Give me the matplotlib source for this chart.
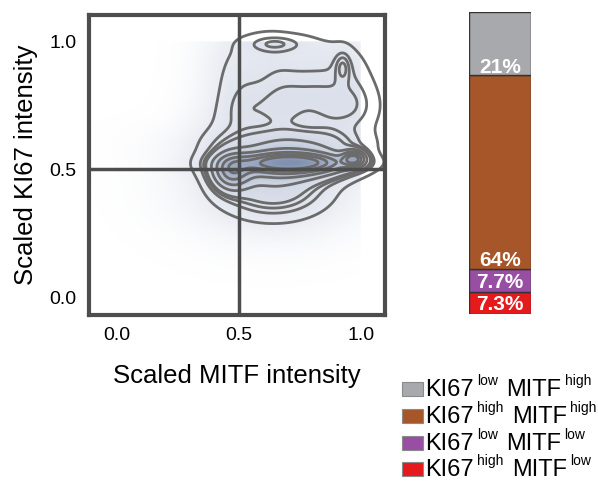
import numpy as np
import matplotlib
matplotlib.use('Agg')
import matplotlib.pyplot as plt
from matplotlib.colors import LinearSegmentedColormap
from matplotlib.patches import Rectangle

plt.rcParams['font.family'] = ['Liberation Sans', 'DejaVu Sans']

# ---- density of cells (Gaussian components) ----
# dense band around KI67 ~0.52 plus two small upper islands
peak_mitf = [0.72, 0.70, 0.47, 0.97, 0.64, 0.72, 0.65, 0.925]
peak_ki67 = [0.525, 0.52, 0.49, 0.54, 0.43, 0.60, 0.99, 0.90]
peak_sd_mitf = [0.13, 0.16, 0.05, 0.03, 0.15, 0.18, 0.08, 0.022]
peak_sd_ki67 = [0.022, 0.04, 0.045, 0.02, 0.08, 0.04, 0.022, 0.04]
peak_weight = [0.12, 0.20, 0.07, 0.025, 0.15, 0.08, 0.008, 0.004]
# flat upper plateau (KI67 0.6 - 1.0)
plateau_mitf = [0.42, 0.52, 0.68, 0.86, 0.98, 0.50, 0.66, 0.80, 0.95, 0.50, 0.63, 0.78, 0.92]
plateau_ki67 = [0.62, 0.72, 0.73, 0.72, 0.74, 0.85, 0.86, 0.82, 0.86, 0.97, 0.98, 0.97, 0.94]
plateau_weight = [0.010, 0.030, 0.036, 0.025, 0.030, 0.015, 0.016, 0.022, 0.015, 0.008, 0.012, 0.010, 0.011]
plateau_sd = 0.075

# ---- stacked bar (bottom to top) ----
segment_values = [7.3, 7.7, 64, 21]
segment_text = ['7.3%', '7.7%', '64%', '21%']
segment_colors = ['#e41a1c', '#984ea3', '#a65628', '#a8a9ad']
segment_ki67 = ['high', 'low', 'high', 'low']
segment_mitf = ['low', 'low', 'high', 'high']

tick_values = [0.0, 0.5, 1.0]
tick_labels = ['0.0', '0.5', '1.0']

W, H = 598, 483
fig = plt.figure(figsize=(W/100, H/100), dpi=100)
ax = fig.add_axes([89/W, 1-315/H, 296/W, 300/H])

xmin, xmax = -0.1148, 1.098
ymin, ymax = -0.070, 1.1016
gx = np.linspace(xmin, xmax, 500)
gy = np.linspace(ymin, ymax, 500)
X, Y = np.meshgrid(gx, gy)
Z = np.zeros_like(X)
for mx, my, sx, sy, w in zip(peak_mitf, peak_ki67, peak_sd_mitf, peak_sd_ki67, peak_weight):
    Z += w / (2*np.pi*sx*sy) * np.exp(-0.5*(((X-mx)/sx)**2 + ((Y-my)/sy)**2))
for mx, my, w in zip(plateau_mitf, plateau_ki67, plateau_weight):
    s = plateau_sd
    Z += w / (2*np.pi*s*s) * np.exp(-0.5*(((X-mx)/s)**2 + ((Y-my)/s)**2))

haze = Z * ((X <= 1.0) & (Y <= 1.0))
haze = (haze / haze.max()) ** 0.4
cmap = LinearSegmentedColormap.from_list('haze', ['#ffffff', '#d3d9e6', '#7f90b0'])
ax.imshow(haze, extent=(xmin, xmax, ymin, ymax), origin='lower', cmap=cmap,
          aspect='auto', vmin=0, vmax=1, interpolation='bilinear')

zs = np.sort(Z.ravel())
cum = np.cumsum(zs)
cum /= cum[-1]
props = np.linspace(0.05, 1, 10)[:-1]
levels = np.unique(zs[np.searchsorted(cum, props)])
ax.contour(X, Y, Z, levels=levels, colors='#6b6b6b', linewidths=2)

ax.axhline(0.5, color='#4d4d4d', lw=2.5)
ax.axvline(0.5, color='#4d4d4d', lw=2.5)
ax.set_xlim(xmin, xmax)
ax.set_ylim(ymin, ymax)
ax.set_xticks(tick_values)
ax.set_xticklabels(tick_labels)
ax.set_yticks(tick_values)
ax.set_yticklabels(tick_labels)
ax.tick_params(length=0, pad=9, labelsize=14)
for s in ax.spines.values():
    s.set_linewidth(3)
    s.set_color('#4d4d4d')
ax.set_xlabel('Scaled MITF intensity', fontsize=18.5, labelpad=14)
ax.set_ylabel('Scaled KI67 intensity', fontsize=18.5, labelpad=8)

# ---- bar ----
bx = fig.add_axes([469/W, 1-314/H, 62/W, 302/H])
bottom = 0
for v, c, t in zip(segment_values, segment_colors, segment_text):
    bx.bar(0, v, width=1, bottom=bottom, color=c, edgecolor='#333333', linewidth=1)
    if v > 15:
        bx.text(0, bottom + 0.8, t, ha='center', va='baseline', color='white',
                fontsize=15, fontweight='bold')
    else:
        bx.text(0, bottom + v/2, t, ha='center', va='center_baseline', color='white',
                fontsize=15, fontweight='bold')
    bottom += v
bx.set_xlim(-0.5, 0.5)
bx.set_ylim(0, 100)
bx.axis('off')

# ---- legend (top row = top segment) ----
renderer = fig.canvas.get_renderer()
row_baselines = [396, 423, 450, 476]
for i, (c, k, m) in enumerate(zip(segment_colors[::-1], segment_ki67[::-1], segment_mitf[::-1])):
    yb = row_baselines[i]
    fig.patches.append(Rectangle((402/W, 1-yb/H), 21/W, 14/H, transform=fig.transFigure,
                                 facecolor=c, edgecolor='#8a8a8a', linewidth=0.8))
    x = 425
    for txt, size, dy, gap in [('KI67', 17, 0, 3), (k, 10, 11, 9), ('MITF', 17, 0, 3), (m, 10, 11, 0)]:
        t = fig.text(x/W, 1-(yb-dy)/H, txt, fontsize=size, va='baseline', ha='left')
        x += t.get_window_extent(renderer).width + gap

fig.savefig('out.png', dpi=100)
